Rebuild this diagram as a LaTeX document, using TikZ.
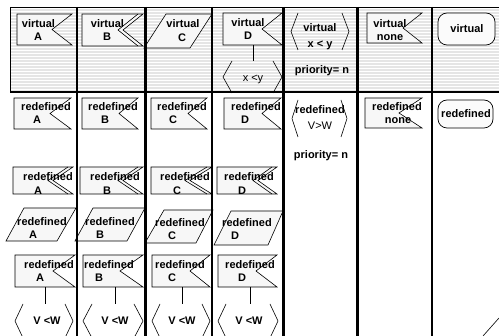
\documentclass[tikz,border=0pt]{standalone}
\usepackage{fontspec}
\setmainfont{Liberation Sans}
\tikzset{
  lab/.style={font=\fontsize{11}{13}\selectfont\bfseries, inner sep=0pt, text height=7.9pt, text depth=0pt, anchor=center},
  labn/.style={lab, font=\fontsize{11}{13}\selectfont},
  shp/.style={draw=black, line width=0.6pt, fill=gray!6},
  rnd/.style={draw=black, line width=0.7pt, fill=gray!3, rounded corners=9pt},
  brk/.style={draw=black, line width=0.6pt},
  conn/.style={draw=black, line width=0.6pt},
  colline/.style={line width=2.4pt},
}
\newcommand\sflag[5]{\filldraw[shp] (#1,#2) -- (#3,#2) -- (#5,{(#2+#4)/2}) -- (#3,#4) -- (#1,#4) -- cycle;}
\newcommand\dflag[5]{\filldraw[shp] (#1,#2) -- (#3,#2) -- ({#5+5},{(#2+#4)/2}) -- (#3,#4) -- (#1,#4) -- cycle;
  \draw[brk] ({#3-5},#2) -- (#5,{(#2+#4)/2}) -- ({#3-5},#4);}
\newcommand\sdldec[5]{\draw[brk] ({#1+#5},#3) -- (#1,{(#3+#4)/2}) -- ({#1+#5},#4);
  \draw[brk] ({#2-#5},#3) -- (#2,{(#3+#4)/2}) -- ({#2-#5},#4);}
\newcommand\twol[7]{\node[lab] (#1a) at (#2,#3) {#6}; \node[lab] (#1b) at (#4,#5) {#7};}
\begin{document}
\begin{tikzpicture}[x=1pt,y=-1pt]
\useasboundingbox (0,0) rectangle (499,336);
\clip (0,0) rectangle (499,336);
\fill[white] (0,0) rectangle (499,336);
% header band
\fill[gray!20] (10,7) rectangle (499,92);
\foreach \yy in {8.5,11.5,...,91} \draw[white, line width=1pt] (10,\yy) -- (499,\yy);
\draw[line width=0.8pt] (10,92) -- (10,7) -- (499,7);

% ---------- row 1 (virtual) ----------
\sflag{17}{14}{72}{45}{52}
\twol{vA}{38.5}{24}{38}{37}{virtual}{A}
\dflag{82}{14}{143}{46}{118}
\twol{vB}{107.5}{24}{107}{37}{virtual}{B}
\filldraw[shp] (166,14) -- (212,14) -- (190,48) -- (144,48) -- cycle;
\twol{vC}{183}{24}{182}{38}{virtual}{C}
\sflag{223}{13}{282}{45}{262}
\twol{vD}{248}{23}{248}{36}{virtual}{D}
\coordinate (vDs) at (253,45);
\coordinate (xyn) at (253,61);
\draw[conn] (vDs) -- (xyn);
\sdldec{223}{282}{61}{93}{9}
\node[labn] (xy) at (253,78) {x <y};
\sdldec{291}{349}{13}{50}{7}
\twol{vxy}{320}{28}{320}{44}{virtual}{x < y}
\node[lab] (pr1) at (322,70) {priority= n};
\sflag{367}{13}{422}{43}{403}
\twol{vN}{390}{24}{390}{37}{virtual}{none}
\draw[rnd] (438,13) rectangle (495,45);
\node[lab] (vS) at (467,29) {virtual};

% ---------- row 2 ----------
\sflag{14}{98}{71}{129}{50}
\twol{rA}{46}{107}{37}{120}{redefined}{A}
\sflag{82}{98}{138}{129}{119}
\twol{rB}{113}{107}{105}{120}{redefined}{B}
\sflag{151}{98}{207}{129}{188}
\twol{rC}{182}{107}{173}{120}{redefined}{C}
\sflag{224}{98}{281}{129}{262}
\twol{rD}{256}{107}{245}{120}{redefined}{D}
\sdldec{292}{347}{100}{137}{6}
\node[lab] (rvw) at (320,110) {redefined};
\node[labn] (vw) at (320,126) {V>W};
\node[lab] (pr2) at (321,155) {priority= n};
\sflag{365}{98}{422}{128}{399}
\twol{rN}{397}{107}{398}{120}{redefined}{none}
\draw[rnd] (438,100) rectangle (493,128);
\node[lab] (rS) at (466,114) {redefined};

% ---------- row 3 ----------
\dflag{13}{167}{73}{194}{48}
\twol{qA}{48}{177}{38}{191}{redefined}{A}
\dflag{80}{167}{143}{194}{118}
\twol{qB}{115}{177}{107}{191}{redefined}{B}
\dflag{151}{167}{212}{194}{185}
\twol{qC}{185}{177}{177}{191}{redefined}{C}
\dflag{217}{167}{277}{194}{253}
\twol{qD}{249}{177}{242}{191}{redefined}{D}

% ---------- row 4 ----------
\filldraw[shp] (24,208) -- (76,208) -- (57,241) -- (6,241) -- cycle;
\twol{pA}{42}{222}{33}{235}{redefined}{A}
\filldraw[shp] (93,208) -- (145,208) -- (127,241) -- (75,241) -- cycle;
\twol{pB}{110}{222}{100}{235}{redefined}{B}
\filldraw[shp] (164,210) -- (213,210) -- (196,243) -- (145,243) -- cycle;
\twol{pC}{180}{223}{172}{236}{redefined}{C}
\filldraw[shp] (231,211) -- (283,211) -- (268,245) -- (214,245) -- cycle;
\twol{pD}{247}{223}{235}{236}{redefined}{D}

% ---------- row 5 ----------
\sflag{15}{255}{75}{287}{53}
\twol{fA}{49}{265}{40}{278}{redefined}{A}
\sflag{83}{255}{143}{287}{120}
\twol{fB}{109}{265}{99}{278}{redefined}{B}
\sflag{152}{255}{210}{287}{190}
\twol{fC}{180}{265}{172}{278}{redefined}{C}
\sflag{218}{255}{277}{287}{256}
\twol{fD}{250}{265}{242}{278}{redefined}{D}
\coordinate (fAs) at (45,287);  \coordinate (dAn) at (45,304);
\coordinate (fBs) at (115,287); \coordinate (dBn) at (115,304);
\coordinate (fCs) at (182,287); \coordinate (dCn) at (182,304);
\coordinate (fDs) at (250,287); \coordinate (dDn) at (250,304);
\draw[conn] (fAs) -- (dAn);
\draw[conn] (fBs) -- (dBn);
\draw[conn] (fCs) -- (dCn);
\draw[conn] (fDs) -- (dDn);
\sdldec{15}{73}{304}{338}{8}
\sdldec{83}{143}{304}{338}{9}
\sdldec{152}{210}{304}{338}{8}
\sdldec{218}{278}{304}{338}{8}
\node[lab] (dA) at (47,321) {V <W};
\node[lab] (dB) at (115,321) {V <W};
\node[lab] (dC) at (182,321) {V <W};
\node[lab] (dD) at (249,321) {V <W};

% fragment at bottom right
\draw[brk] (483,336) -- (499,318);

% grid lines
\draw[line width=2pt] (10,92.5) -- (499,92.5);
\foreach \xx in {77,145.5,212,283.5,357.5,432} \draw[colline] (\xx,7) -- (\xx,336);
\end{tikzpicture}
\end{document}
